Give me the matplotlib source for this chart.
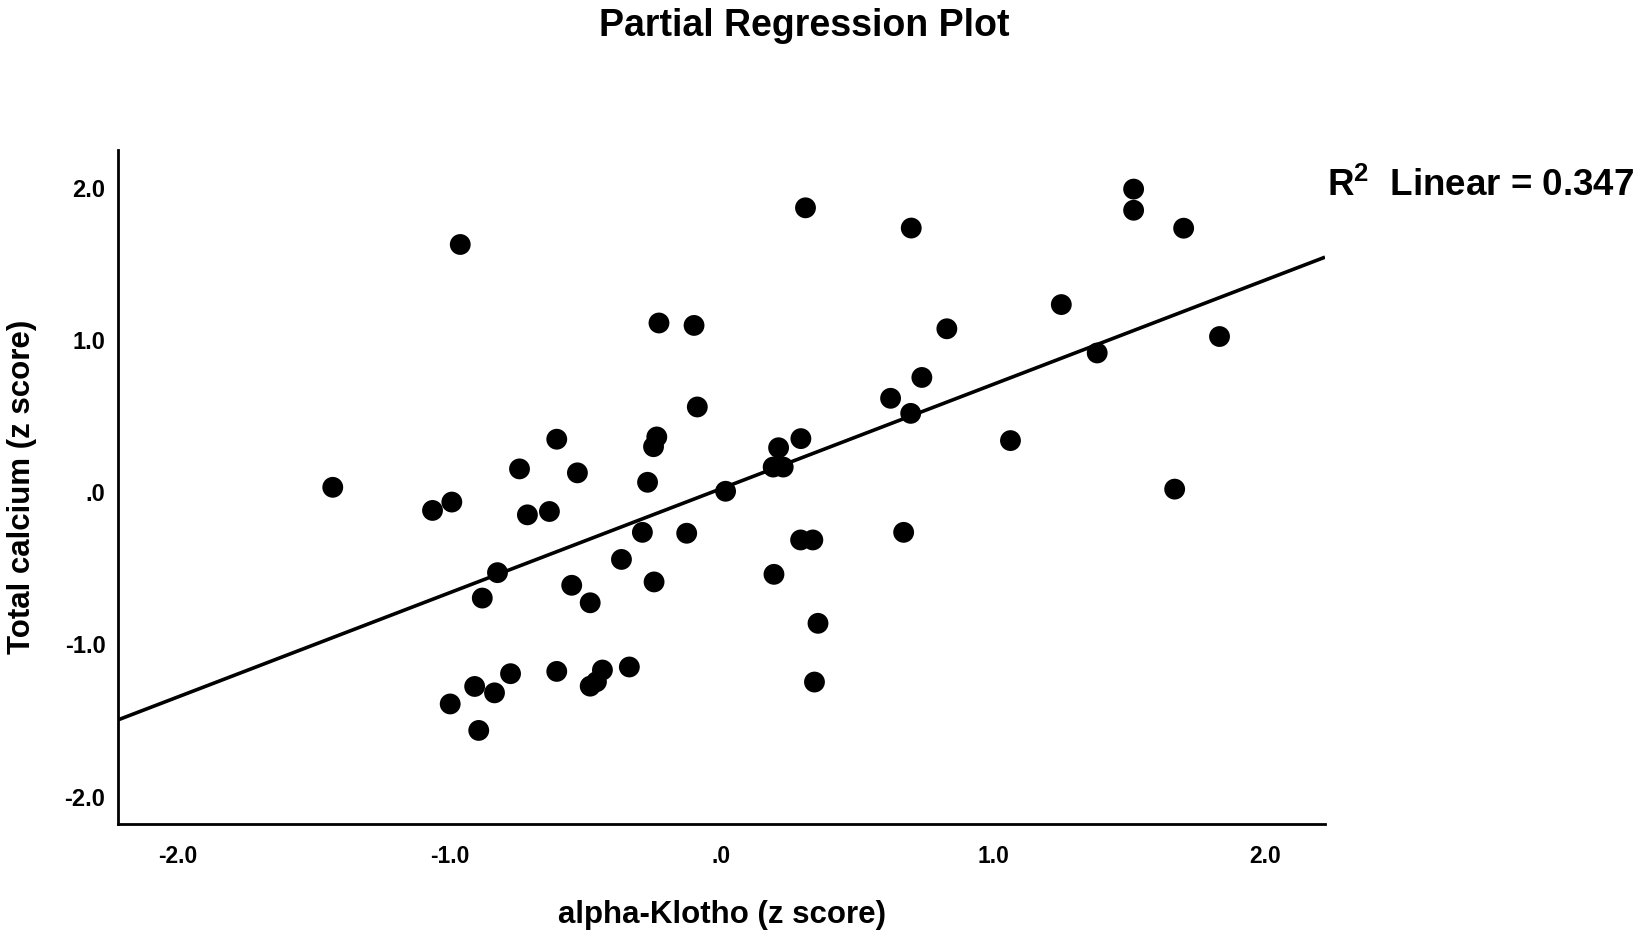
import matplotlib
matplotlib.use("Agg")
import matplotlib.pyplot as plt
import numpy as np

plt.rcParams['font.family'] = ['Liberation Sans', 'DejaVu Sans']

# ---- data ----
klotho_z = [
    -0.961, -0.230, -0.101, -0.089, -0.606, -0.238, -0.250, -0.743, -0.530, -0.272, -1.430,
    -1.063, -0.992, -0.714, -0.633, -0.291, -0.128, -0.368, -0.248, -0.824, -0.880, -0.551,
    -0.483, 0.015, -0.776, -0.908, -0.835, -0.998, -0.893, -0.606, -0.438, -0.483, -0.460,
    -0.339,
    0.309, 0.698, 1.250, 0.829, 0.737, 0.622, 0.696, 1.382, 1.063, 0.292, 0.210, 0.190, 0.227,
    0.291, 0.336, 0.670, 0.193, 0.355, 0.342,
    1.516, 1.516, 1.700, 1.832, 1.667,
]
calcium_z = [
    1.629, 1.113, 1.097, 0.561, 0.349, 0.364, 0.300, 0.154, 0.128, 0.066, 0.033,
    -0.119, -0.064, -0.148, -0.126, -0.263, -0.269, -0.441, -0.589, -0.528, -0.695, -0.611,
    -0.726, 0.007, -1.192, -1.276, -1.318, -1.391, -1.565, -1.177, -1.168, -1.274, -1.245,
    -1.148,
    1.870, 1.737, 1.234, 1.075, 0.755, 0.618, 0.519, 0.916, 0.340, 0.353, 0.293, 0.166, 0.166,
    -0.313, -0.313, -0.263, -0.539, -0.861, -1.247,
    1.993, 1.854, 1.736, 1.024, 0.021,
]
fit_slope = 0.685
fit_intercept = 0.025
r2_text = "0.347"
tick_values = [-2.0, -1.0, 0.0, 1.0, 2.0]
tick_labels = ["-2.0", "-1.0", ".0", "1.0", "2.0"]

W, H = 1638, 930
fig = plt.figure(figsize=(W / 100, H / 100), dpi=100)
ax = fig.add_axes([118 / W, 1 - 824 / H, (1325 - 118) / W, (824 - 150) / H])

xlim = (-2.22, 2.22)
ylim = (-2.18, 2.25)

ax.scatter(klotho_z, calcium_z, s=225, c='black', edgecolors='none', zorder=3)
xs = np.array(xlim)
ax.plot(xs, fit_slope * xs + fit_intercept, color='black', lw=2.6, zorder=2,
        solid_capstyle='butt')

ax.set_xlim(*xlim)
ax.set_ylim(*ylim)
ax.set_xticks(tick_values)
ax.set_xticklabels(tick_labels, fontsize=16.5, fontweight='bold')
ax.set_yticks(tick_values)
ax.set_yticklabels(tick_labels, fontsize=17, fontweight='bold')
ax.tick_params(axis='both', length=0)
ax.tick_params(axis='x', pad=15)
ax.tick_params(axis='y', pad=9)

for side in ['top', 'right']:
    ax.spines[side].set_visible(False)
for side in ['left', 'bottom']:
    ax.spines[side].set_linewidth(2.0)
    ax.spines[side].set_color('black')

ax.set_xlabel("alpha-Klotho (z score)", fontsize=22.5, fontweight='bold')
ax.xaxis.set_label_coords(0.5, -0.113)
ax.set_ylabel("Total calcium (z score)", fontsize=22.5, fontweight='bold')
ax.yaxis.set_label_coords(-0.067, 0.5)

fig.text(804 / W, 1 - 26 / H, "Partial Regression Plot", ha='center', va='center',
         fontsize=27, fontweight='bold')
fig.text(1327 / W, 1 - 196 / H, r"$\mathregular{R^2}$  Linear = " + r2_text,
         ha='left', va='baseline', fontsize=26.5, fontweight='bold')

fig.savefig("out.png", dpi=100, facecolor='white')
